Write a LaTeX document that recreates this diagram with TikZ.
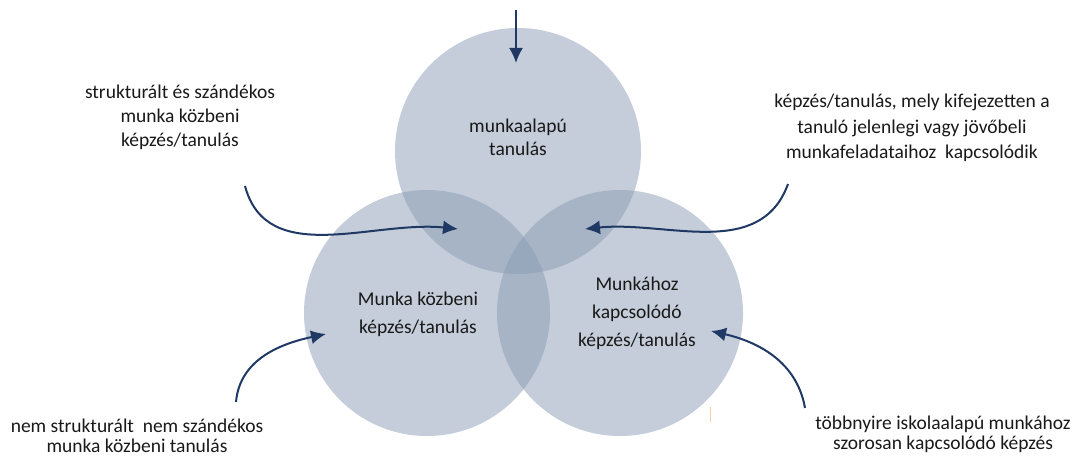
\documentclass[tikz,border=0pt]{standalone}
\usepackage{fontspec}
\setmainfont{Carlito}
\usetikzlibrary{positioning, calc, arrows.meta}

\definecolor{ringfill}{RGB}{137,155,179}
\definecolor{arrowblue}{RGB}{31,56,100}
\definecolor{tickorange}{RGB}{250,205,160}

\begin{document}
\begin{tikzpicture}[x=1pt, y=1pt,
  ring/.style = {circle, fill=ringfill, fill opacity=0.5, minimum size=246pt, inner sep=0pt},
  lbl/.style = {align=center, text=black!90, font=\fontsize{19.5}{24}\selectfont},
  lowlbl/.style = {align=center, text=black!90, font=\fontsize{19.5}{20}\selectfont},
  arr/.style = {draw=arrowblue, line width=2pt, -{Latex[length=15pt, width=14pt]}}
]

\useasboundingbox (0,0) rectangle (1081,456);

% circles
\node[ring] (top)   at (518,305) {};
\node[ring] (left)  at (427,143) {};
\node[ring] (right) at (620,143) {};

% circle texts
\node[lbl, font=\fontsize{19.5}{23}\selectfont] (topT) at (518,319) {munkaalapú\\tanulás};
\node[lbl, font=\fontsize{19.5}{28}\selectfont] (leftT)  at (418,142) {Munka közbeni\\képzés/tanulás};
\node[lbl, font=\fontsize{19.5}{28}\selectfont] (rightT) at (637,143) {Munkához\\kapcsolódó\\képzés/tanulás};

% outer texts
\node[lbl] (ulT) at (180,339) {strukturált és szándékos\\munka közbeni\\képzés/tanulás};
\node[lbl, font=\fontsize{19.5}{25.5}\selectfont] (urT) at (912,328) {képzés/tanulás, mely kifejezetten a\\tanuló jelenlegi vagy jövőbeli\\munkafeladataihoz\ \ kapcsolódik};
\node[lowlbl] (llT) at (137,20) {nem strukturált\ \ nem szándékos\\munka közbeni tanulás};
\node[lowlbl] (lrT) at (943,21.5) {többnyire iskolaalapú munkához\\szorosan kapcsolódó képzés};

% arrow ends
\coordinate (topS) at (516,446);
\coordinate (topE) at (516,393);
\coordinate (ulS)  at (245,270);
\coordinate (ulE)  at (458,227);
\coordinate (urS)  at (788,272);
\coordinate (urE)  at (585,227);
\coordinate (llS)  at (236,54);
\coordinate (llE)  at (326,122);
\coordinate (lrS)  at (805,48);
\coordinate (lrE)  at (711,125);

%--- arrows
\draw[arr] (topS) -- (topE);
\draw[arr] (ulS) to[out=-75, in=174] (ulE);
\draw[arr] (urS) to[out=-110, in=6] (urE);
\draw[arr] (llS) to[out=85, in=192] (llE);
\draw[arr] (lrS) to[out=100, in=-13] (lrE);

%--- small tick
\draw[tickorange, line width=1pt] (710,34) -- (710,49);

\end{tikzpicture}
\end{document}
